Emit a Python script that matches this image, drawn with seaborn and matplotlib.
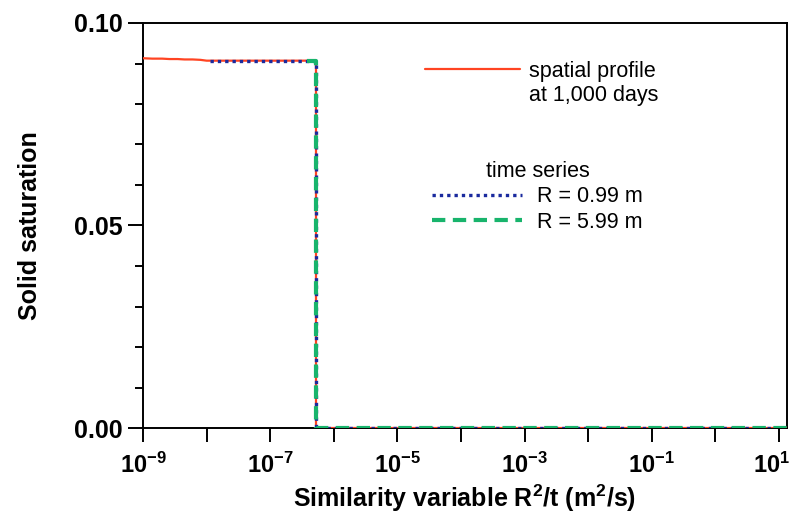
import numpy as np
import pandas as pd
import matplotlib
matplotlib.use("Agg")
import matplotlib.pyplot as plt
import seaborn as sns
from matplotlib.lines import Line2D
from matplotlib.ticker import FixedLocator, FuncFormatter
from matplotlib.transforms import ScaledTranslation

# ---- data ----
profile_x = [1e-9, 1.4e-9, 2e-9, 2.6e-9, 3.5e-9, 4.5e-9, 6e-9, 8e-9, 1e-8, 2e-8,
             5e-8, 1e-7, 2e-7, 5.25e-7, 5.25e-7, 1e-3, 13.5]
profile_y = [0.0913, 0.0912, 0.0912, 0.0911, 0.0911, 0.0910, 0.0910, 0.0909, 0.0907, 0.0907,
             0.0907, 0.0907, 0.0907, 0.0907, 0.0, 0.0, 0.0]
r099_x = [1.13e-8, 5.25e-7, 5.25e-7, 13.5]
r099_y = [0.0906, 0.0906, 0.0, 0.0]
r599_x = [3.8e-7, 5.25e-7, 5.25e-7, 13.5]
r599_y = [0.0906, 0.0906, 0.0, 0.0]

x_decades = list(range(-9, 2))
y_major = [0.0, 0.05, 0.10]
y_minor = [0.01, 0.02, 0.03, 0.04, 0.06, 0.07, 0.08, 0.09]

RED = "#FF4422"
BLUE = "#1A2A9E"
GREEN = "#18B46C"

sns.set_style("ticks")
plt.rcParams["font.family"] = ["Liberation Sans", "DejaVu Sans"]
plt.rcParams["mathtext.fontset"] = "custom"
plt.rcParams["mathtext.rm"] = "Liberation Sans"
plt.rcParams["mathtext.bf"] = "Liberation Sans:bold"
plt.rcParams["mathtext.it"] = "Liberation Sans:italic"
for k in ["text.color", "axes.labelcolor", "xtick.color", "ytick.color",
          "axes.edgecolor"]:
    plt.rcParams[k] = "black"

fig = plt.figure(figsize=(7.95, 5.27), dpi=100)
ax = fig.add_axes([143 / 795, 1 - 428 / 527, (787 - 143) / 795, (428 - 23) / 527])

df_p = pd.DataFrame({"x": profile_x, "y": profile_y})
df_a = pd.DataFrame({"x": r099_x, "y": r099_y})
df_b = pd.DataFrame({"x": r599_x, "y": r599_y})

sns.lineplot(data=df_p, x="x", y="y", ax=ax, color=RED, lw=1.6, sort=False,
             estimator=None, zorder=3)
sns.lineplot(data=df_a, x="x", y="y", ax=ax, color=BLUE, lw=2.4, sort=False,
             estimator=None, zorder=4, linestyle=(0, (1, 1.2)))
sns.lineplot(data=df_b, x="x", y="y", ax=ax, color=GREEN, lw=3.0, sort=False,
             estimator=None, zorder=5, linestyle=(0, (3.2, 1.8)))

ax.set_xscale("log")
ax.set_xlim(1e-9, 10 ** 1.126)
ax.set_ylim(0, 0.10)

ax.xaxis.set_major_locator(FixedLocator([10.0 ** e for e in x_decades]))
ax.xaxis.set_minor_locator(FixedLocator([]))


def fmt(v, pos):
    e = int(round(np.log10(v)))
    if e % 2 == 0:
        return ""
    return r"$\mathbf{10^{%d}}$" % e


ax.xaxis.set_major_formatter(FuncFormatter(fmt))
ax.yaxis.set_major_locator(FixedLocator(y_major))
ax.yaxis.set_minor_locator(FixedLocator(y_minor))
ax.yaxis.set_major_formatter(FuncFormatter(lambda v, p: f"{v:.2f}"))

for s in ax.spines.values():
    s.set_linewidth(1.4)
    s.set_color("black")
    s.set_visible(True)

ax.tick_params(axis="x", which="major", direction="out", length=10, width=1.4,
               labelsize=17, pad=8, colors="black")
ax.tick_params(axis="y", which="major", direction="out", length=10.5, width=1.4,
               labelsize=18, pad=4, colors="black")
ax.tick_params(axis="y", which="minor", direction="out", length=5.5, width=1.4,
               colors="black")
for lab in ax.get_yticklabels():
    lab.set_fontweight("bold")

# keep the last x label (10^1) inside the figure, as in the reference
last_tick = ax.xaxis.get_major_ticks()[-1]
last_tick.label1.set_transform(last_tick.label1.get_transform()
                               + ScaledTranslation(-0.07, 0, fig.dpi_scale_trans))

ax.set_xlabel(r"Similarity variable R$^{\mathbf{2}}$/t (m$^{\mathbf{2}}$/s)",
              fontsize=18, fontweight="bold", labelpad=3, color="black")
ax.set_ylabel("Solid saturation", fontsize=18, fontweight="bold", labelpad=23,
              color="black")

# legends
LFS = 15.5
h_red = Line2D([], [], color=RED, lw=1.6)
h_blank = Line2D([], [], color="none", lw=0)
leg1 = ax.legend([h_red, h_blank], ["spatial profile", "at 1,000 days"],
                 loc="upper left", bbox_to_anchor=(425 / 795, 1 - 61 / 527),
                 bbox_transform=fig.transFigure, frameon=False, fontsize=LFS,
                 handlelength=4.4, handletextpad=0.45, borderpad=0, borderaxespad=0,
                 labelspacing=0.12, labelcolor="black")
ax.add_artist(leg1)
h_blue = Line2D([], [], color=BLUE, lw=2.4, linestyle=(0, (1, 1.2)))
h_green = Line2D([], [], color=GREEN, lw=3.0, linestyle=(0, (3.2, 1.8)))
leg2 = ax.legend([h_blue, h_green], ["R = 0.99 m", "R = 5.99 m"],
                 title="time series", title_fontsize=LFS,
                 loc="upper left", bbox_to_anchor=(432 / 795, 1 - 161 / 527),
                 bbox_transform=fig.transFigure, frameon=False, fontsize=LFS,
                 handlelength=4.2, handletextpad=0.7, borderpad=0, borderaxespad=0,
                 labelspacing=0.2, labelcolor="black")
leg2.get_title().set_color("black")

fig.savefig("out.png", dpi=100)
